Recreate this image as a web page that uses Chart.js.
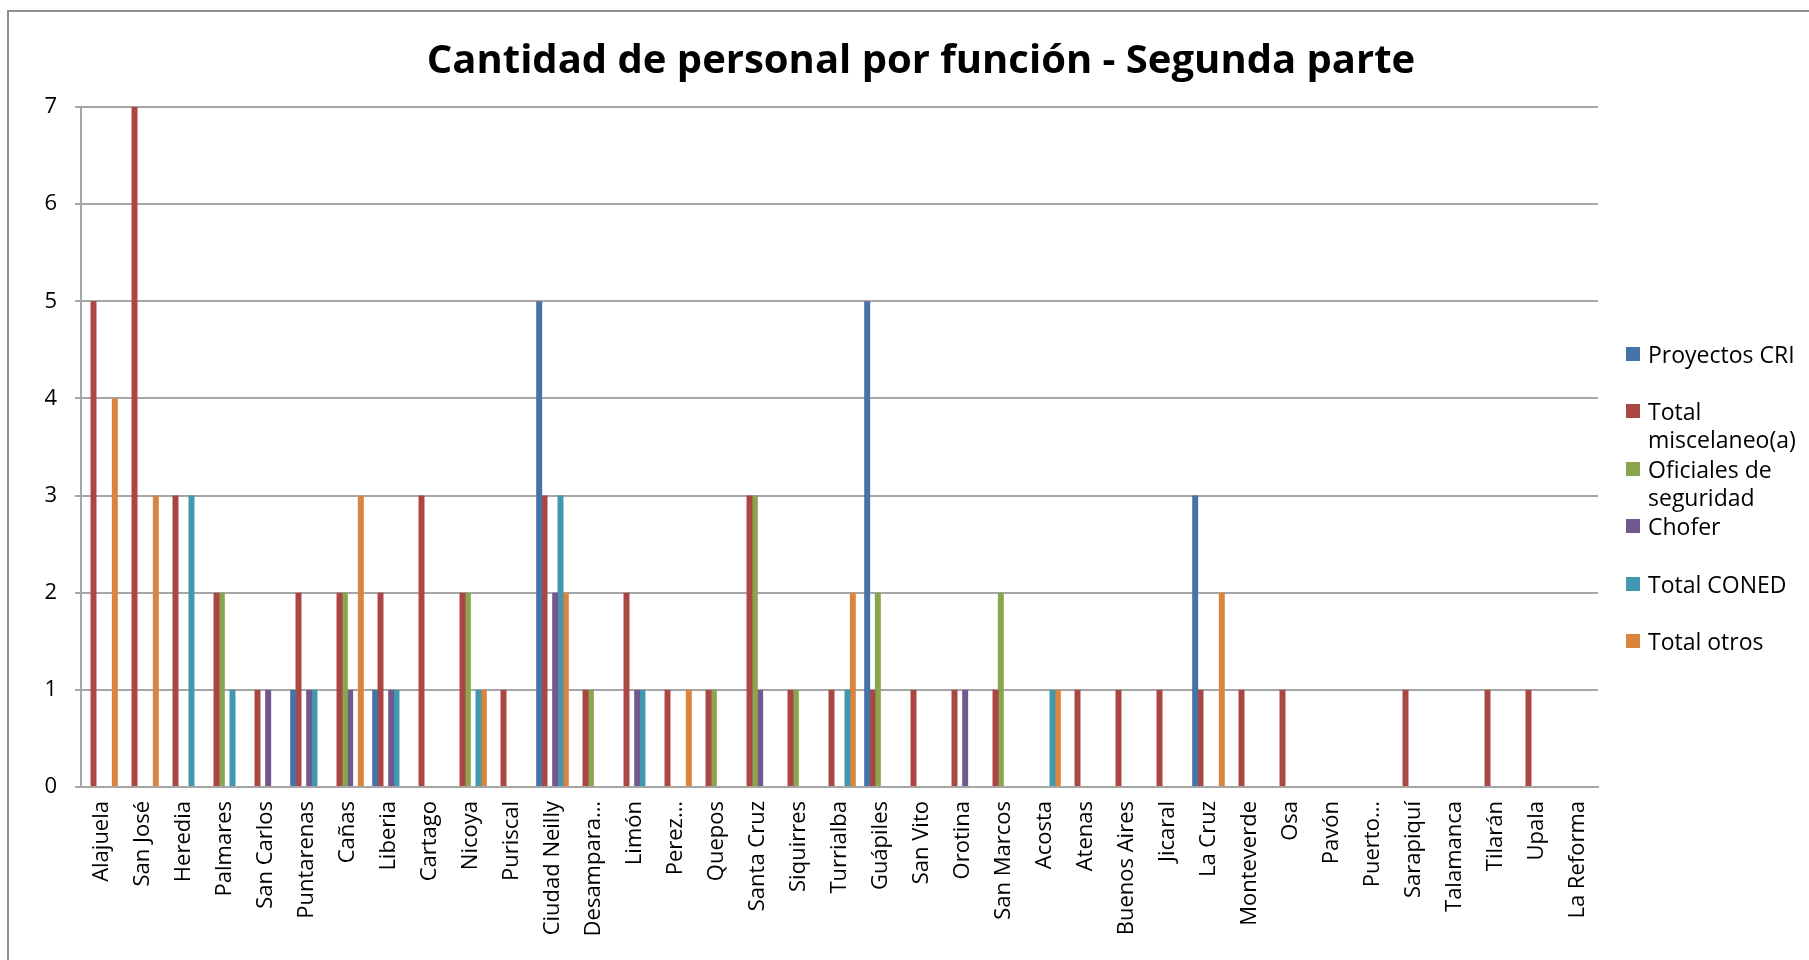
<!DOCTYPE html>
<html lang="es">
<head>
<meta charset="utf-8">
<title>Cantidad de personal por función - Segunda parte</title>
<script src="https://cdn.jsdelivr.net/npm/chart.js@4.4.1/dist/chart.umd.min.js"></script>
<style>
    body { margin: 0; background: #fff; }
    #wrap { position: relative; width: 1809px; height: 960px; overflow: hidden; }
    #frame { position: absolute; left: 7px; top: 10px; right: -10px; bottom: -10px;
             border-left: 2px solid #8e8e8e; border-top: 2px solid #8e8e8e; pointer-events: none; }
    #title { position: absolute; left: 0; top: 34px; width: 1842px; text-align: center;
             font-family: "Open Sans", sans-serif; font-weight: bold; font-size: 40px; line-height: 48px; color: #000; }
    #legend { position: absolute; left: 0; top: 0; font-family: "Open Sans", sans-serif; font-size: 23px; color: #000; }
    .item { position: absolute; left: 1626px; width: 183px; line-height: 28px; }
    .item .box { position: absolute; left: 0; top: 7px; width: 14px; height: 14px; }
    .item .txt { margin-left: 22px; white-space: nowrap; }
</style>
</head>
<body>
<div id="wrap">
    <canvas id="chart"></canvas>
    <div id="frame"></div>
    <div id="title">Cantidad de personal por función - Segunda parte</div>
    <div id="legend"></div>
</div>
<script>
const categories = ['Alajuela', 'San José', 'Heredia', 'Palmares', 'San Carlos', 'Puntarenas', 'Cañas',
    'Liberia', 'Cartago', 'Nicoya', 'Puriscal', 'Ciudad Neilly', 'Desampara…', 'Limón', 'Perez…',
    'Quepos', 'Santa Cruz', 'Siquirres', 'Turrialba', 'Guápiles', 'San Vito', 'Orotina', 'San Marcos',
    'Acosta', 'Atenas', 'Buenos Aires', 'Jicaral', 'La Cruz', 'Monteverde', 'Osa', 'Pavón', 'Puerto…',
    'Sarapiquí', 'Talamanca', 'Tilarán', 'Upala', 'La Reforma'];

const proyectosCRI =  [0, 0, 0, 0, 0, 1, 0, 1, 0, 0, 0, 5, 0, 0, 0, 0, 0, 0, 0, 5, 0, 0, 0, 0, 0, 0, 0, 3, 0, 0, 0, 0, 0, 0, 0, 0, 0];
const totalMisc =     [5, 7, 3, 2, 1, 2, 2, 2, 3, 2, 1, 3, 1, 2, 1, 1, 3, 1, 1, 1, 1, 1, 1, 0, 1, 1, 1, 1, 1, 1, 0, 0, 1, 0, 1, 1, 0];
const oficiales =     [0, 0, 0, 2, 0, 0, 2, 0, 0, 2, 0, 0, 1, 0, 0, 1, 3, 1, 0, 2, 0, 0, 2, 0, 0, 0, 0, 0, 0, 0, 0, 0, 0, 0, 0, 0, 0];
const chofer =        [0, 0, 0, 0, 1, 1, 1, 1, 0, 0, 0, 2, 0, 1, 0, 0, 1, 0, 0, 0, 0, 1, 0, 0, 0, 0, 0, 0, 0, 0, 0, 0, 0, 0, 0, 0, 0];
const totalConed =    [0, 0, 3, 1, 0, 1, 0, 1, 0, 1, 0, 3, 0, 1, 0, 0, 0, 0, 1, 0, 0, 0, 0, 1, 0, 0, 0, 0, 0, 0, 0, 0, 0, 0, 0, 0, 0];
const totalOtros =    [4, 3, 0, 0, 0, 0, 3, 0, 0, 1, 0, 2, 0, 0, 1, 0, 0, 0, 2, 0, 0, 0, 0, 1, 0, 0, 0, 2, 0, 0, 0, 0, 0, 0, 0, 0, 0];

const yTicks = [0, 1, 2, 3, 4, 5, 6, 7];

const seriesNames = ['Proyectos CRI', 'Total miscelaneo(a)', 'Oficiales de seguridad', 'Chofer', 'Total CONED', 'Total otros'];
const seriesData = [proyectosCRI, totalMisc, oficiales, chofer, totalConed, totalOtros];
const colors = ['#4572a7', '#aa4643', '#89a54e', '#71588f', '#4198af', '#db843d'];

// legend drawn as html so long names can wrap like in the original
const legend = document.getElementById('legend');
const legendLines = [['Proyectos CRI'], ['Total', 'miscelaneo(a)'], ['Oficiales de', 'seguridad'], ['Chofer'], ['Total CONED'], ['Total otros']];
legendLines.forEach(function(lines, i) {
    const item = document.createElement('div');
    item.className = 'item';
    item.style.top = (340 + i * 57.4) + 'px';
    const box = document.createElement('span');
    box.className = 'box';
    box.style.background = colors[i];
    const txt = document.createElement('div');
    txt.className = 'txt';
    txt.innerHTML = lines.join('<br>');
    item.appendChild(box);
    item.appendChild(txt);
    legend.appendChild(item);
});

const ctx = document.getElementById('chart').getContext('2d');
const chart = new Chart(ctx, {
    type: 'bar',
    data: {
        labels: categories,
        datasets: seriesNames.map(function(name, i) {
            return {
                label: name,
                data: seriesData[i],
                backgroundColor: colors[i],
                borderWidth: 0,
                categoryPercentage: 0.78,
                barPercentage: 1.12
            };
        })
    },
    options: {
        responsive: true,
        maintainAspectRatio: false,
        animation: false,
        layout: { padding: { top: 107, left: 10, right: 211, bottom: 0 } },
        plugins: {
            legend: { display: false },
            tooltip: { enabled: false },
            title: { display: false }
        },
        scales: {
            x: {
                grid: { display: false },
                border: { color: '#a6a6a6', width: 2 },
                ticks: {
                    autoSkip: false,
                    maxRotation: 90,
                    minRotation: 90,
                    color: '#000',
                    padding: 6,
                    font: { family: 'Open Sans', size: 22 }
                },
                afterFit: function(s) { s.height = 173; }
            },
            y: {
                min: 0,
                max: 7,
                afterBuildTicks: function(s) { s.ticks = yTicks.map(function(v) { return { value: v }; }); },
                grid: { color: '#a6a6a6', lineWidth: 2, tickLength: 6 },
                border: { color: '#a6a6a6', width: 2 },
                ticks: {
                    color: '#000',
                    padding: 18,
                    font: { family: 'Open Sans', size: 22 }
                },
                afterFit: function(s) { s.width = 71; }
            }
        }
    }
});
</script>
</body>
</html>
